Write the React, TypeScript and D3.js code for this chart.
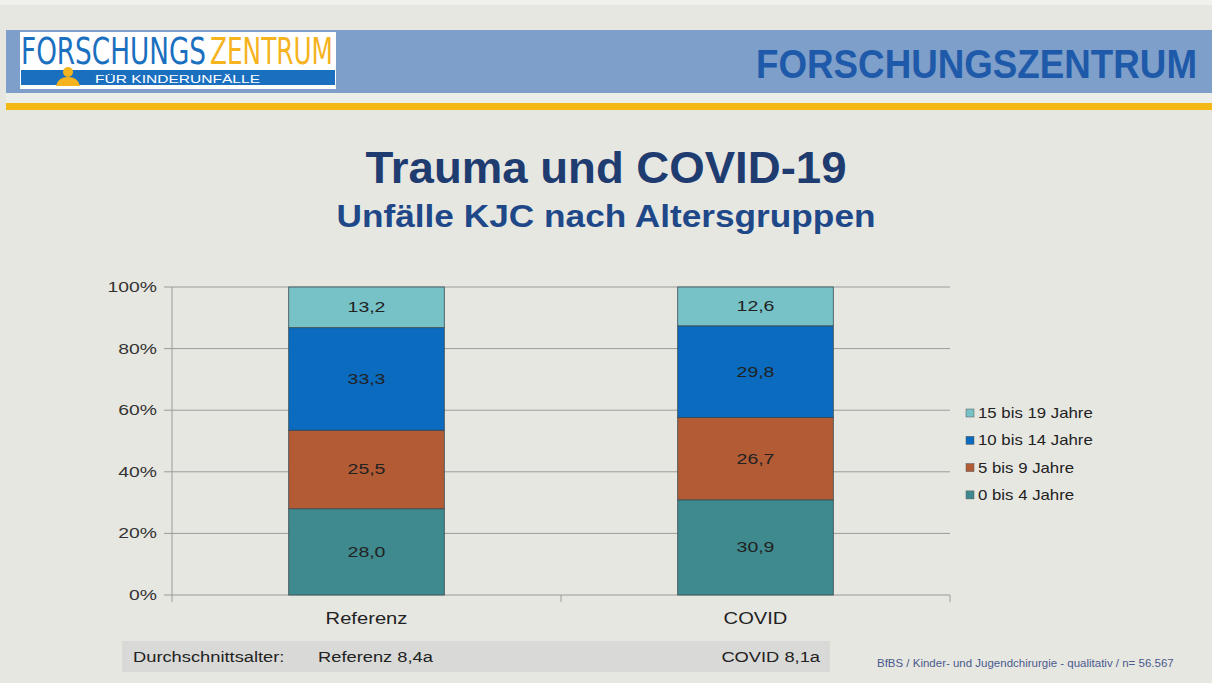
import React from "react";
import * as d3 from "d3";

const categories = ["Referenz", "COVID"];
const groups = ["0 bis 4 Jahre", "5 bis 9 Jahre", "10 bis 14 Jahre", "15 bis 19 Jahre"];
const referenzValues = [28.0, 25.5, 33.3, 13.2];
const covidValues = [30.9, 26.7, 29.8, 12.6];
const groupColors = ["#3e8a8e", "#b25b35", "#0a6bbf", "#76c2c7"];
const yTicks = [0, 20, 40, 60, 80, 100];
const avgLabels = ["Referenz 8,4a", "COVID 8,1a"];

const W = 1212;
const H = 683;
const FONT = "Arial, 'Liberation Sans', Helvetica, sans-serif";

function SText(props: { x: number; y: number; sx: number; size: number; anchor?: string; fill?: string; children: any }) {
  const { x, y, sx, size, anchor = "start", fill = "#222", children } = props;
  return (
    <text transform={`translate(${x},${y}) scale(${sx},1)`} textAnchor={anchor as any} fontSize={size} fill={fill}>
      {children}
    </text>
  );
}

export default function App() {
  const x = d3.scaleBand<string>().domain(categories).range([172, 950]).paddingInner(0.6).paddingOuter(0.3);
  const y = d3.scaleLinear().domain([0, 100]).range([595, 287]);
  const table = categories.map((c, i) => {
    const vals = i === 0 ? referenzValues : covidValues;
    const row: any = { cat: c };
    groups.forEach((g, j) => (row[g] = vals[j]));
    return row;
  });
  const stack = d3.stack<any>().keys(groups)(table);
  const fmt = (v: number) => v.toFixed(1).replace(".", ",");
  const logoFont = "'DejaVu Sans Condensed', 'Liberation Sans Narrow', sans-serif";

  return (
    <svg width={W} height={H} style={{ position: "absolute", left: 0, top: 0, display: "block" }} fontFamily={FONT}>
      <rect x={0} y={0} width={W} height={H} fill="#e7e7e2" />
      <rect x={0} y={0} width={W} height={5} fill="#f0f0ec" />
      {/* header band */}
      <rect x={6} y={30} width={W - 6} height={63} fill="#7d9fc9" />
      <rect x={6} y={93} width={W - 6} height={10} fill="#eceee9" />
      <rect x={6} y={103} width={W - 6} height={7} fill="#f3b814" />
      {/* logo */}
      <rect x={20} y={32} width={316} height={57} fill="#ffffff" />
      <text transform="translate(21,64) scale(1,1.2)" fontSize={31} fontFamily={logoFont} fill="#1b6fbf" textLength={185} lengthAdjust="spacingAndGlyphs">FORSCHUNGS</text>
      <text transform="translate(210,64) scale(1,1.2)" fontSize={31} fontFamily={logoFont} fill="#f5b31e" textLength={123} lengthAdjust="spacingAndGlyphs">ZENTRUM</text>
      <rect x={21} y={70} width={314} height={15} fill="#1b6fbf" />
      <circle cx={68} cy={72} r={5} fill="#f5b31e" />
      <path d="M56,86 Q58,77 68,77 Q78,77 80,86 Z" fill="#f5b31e" />
      <text x={95} y={83} fontSize={10.5} fill="#ffffff" textLength={165} lengthAdjust="spacingAndGlyphs">FÜR KINDERUNFÄLLE</text>
      <text transform="translate(1197,78) scale(1,1.12)" textAnchor="end" fontSize={37} fontWeight="bold" fill="#1e5aa9" textLength={441} lengthAdjust="spacingAndGlyphs">FORSCHUNGSZENTRUM</text>

      {/* titles */}
      <text x={606} y={183} textAnchor="middle" fontSize={45} fontWeight="bold" fill="#1f3c70" textLength={481} lengthAdjust="spacingAndGlyphs">Trauma und COVID-19</text>
      <text x={606} y={227} textAnchor="middle" fontSize={31} fontWeight="bold" fill="#1f4888" textLength={539} lengthAdjust="spacingAndGlyphs">Unfälle KJC nach Altersgruppen</text>

      {/* grid */}
      {yTicks.map((t) => (
        <g key={t}>
          <line x1={164} x2={950} y1={y(t)} y2={y(t)} stroke="#9a9a9a" strokeWidth={1} />
          <SText x={157} y={y(t) + 5} sx={1.38} size={14} anchor="end" fill="#333">{t}%</SText>
        </g>
      ))}
      <line x1={172} x2={172} y1={287} y2={595} stroke="#9a9a9a" />
      {[172, 561, 950].map((v) => (
        <line key={v} x1={v} x2={v} y1={595} y2={602} stroke="#9a9a9a" />
      ))}

      {/* bars */}
      {stack.map((layer, j) => (
        <g key={layer.key}>
          {layer.map((d: any, i: number) => {
            const cat = categories[i];
            const x0 = x(cat)!;
            const y0 = y(d[1]);
            const h = y(d[0]) - y(d[1]);
            return (
              <g key={cat}>
                <rect x={x0} y={y0} width={x.bandwidth()} height={h} fill={groupColors[j]} stroke="#3a4a50" strokeWidth={0.8} />
                <SText x={x0 + x.bandwidth() / 2} y={y0 + h / 2 + 5} sx={1.3} size={15} anchor="middle">{fmt(d[1] - d[0])}</SText>
              </g>
            );
          })}
        </g>
      ))}
      {categories.map((c) => (
        <SText key={c} x={x(c)! + x.bandwidth() / 2} y={624} sx={1.26} size={16} anchor="middle">{c}</SText>
      ))}

      {/* legend */}
      {groups.slice().reverse().map((g, k) => {
        const idx = groups.length - 1 - k;
        const cy = 413 + k * 27.3;
        return (
          <g key={g}>
            <rect x={966} y={cy - 4} width={8} height={8} fill={groupColors[idx]} stroke="#555" strokeWidth={0.5} />
            <SText x={978} y={cy + 5} sx={1.2} size={14}>{g}</SText>
          </g>
        );
      })}

      {/* average age bar */}
      <rect x={122} y={641} width={708} height={31} fill="#d9d9d7" />
      <SText x={133} y={662} sx={1.22} size={15}>Durchschnittsalter:</SText>
      <SText x={318} y={662} sx={1.22} size={15}>{avgLabels[0]}</SText>
      <SText x={820} y={662} sx={1.22} size={15} anchor="end">{avgLabels[1]}</SText>

      <SText x={877} y={667} sx={1.15} size={10} fill="#4a5a8c">BfBS / Kinder- und Jugendchirurgie - qualitativ / n= 56.567</SText>
    </svg>
  );
}
